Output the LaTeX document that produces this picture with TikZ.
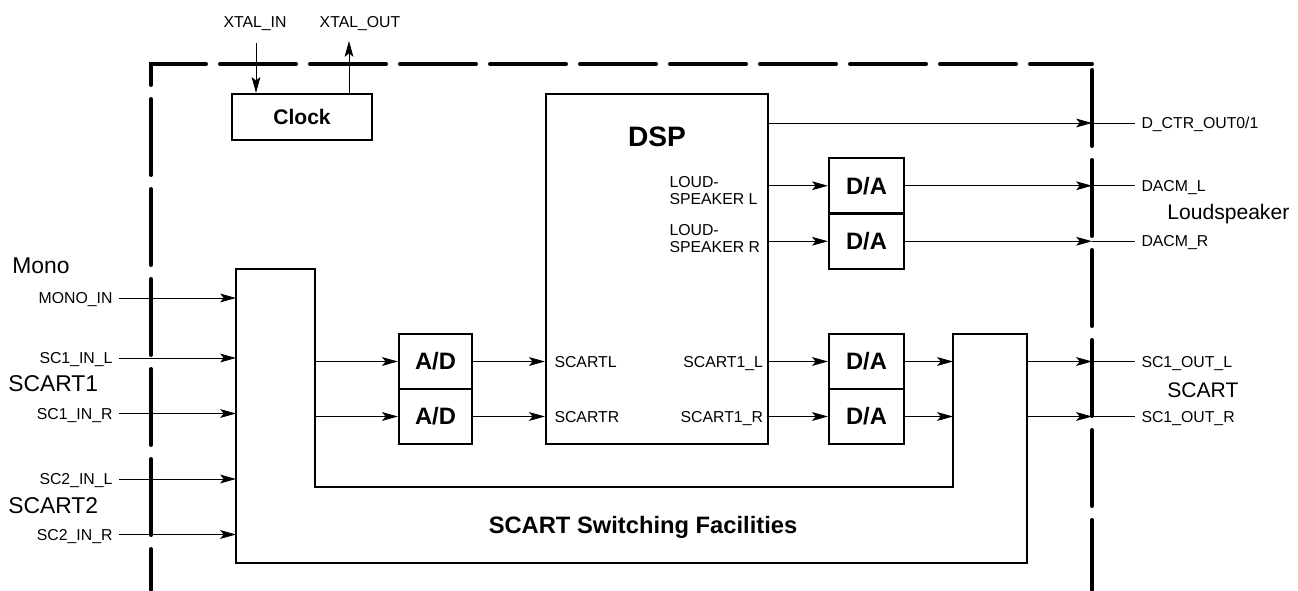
\documentclass[tikz,border=0pt]{standalone}
\usepackage{fontspec}
\setmainfont{Liberation Sans}
\usetikzlibrary{calc,arrows.meta}

\begin{document}
\begin{tikzpicture}[
  blk/.style={draw,line width=1.3pt,minimum width=1.46cm,minimum height=1.10cm,inner sep=0pt,font=\bfseries\fontsize{13.5}{15}\selectfont},
  sig/.style={font=\fontsize{9}{9.7}\selectfont,inner xsep=3.5pt,inner ysep=0pt,text height=6.4pt,text depth=0pt},
  spk/.style={font=\fontsize{9}{9.7}\selectfont,inner xsep=3.5pt,inner ysep=0pt,align=left,anchor=west},
  grp/.style={font=\fontsize{13}{15}\selectfont,inner sep=0pt,text height=9.3pt,text depth=0pt,anchor=west},
  conn/.style={line width=0.5pt,-{Stealth[length=9pt,width=5pt,inset=2pt]}},
  wire/.style={line width=0.5pt},
  bnd/.style={line width=2.3pt,line cap=round,dash pattern=on 1.52cm off 0.28cm}]
\useasboundingbox (0,0) rectangle (25.96,11.8);
\draw[bnd,dash phase=0.70cm] (3.02,0) -- (3.02,10.52) -- (21.84,10.52);
\draw[bnd,dash phase=1.68cm] (21.84,10.52) -- (21.84,0);
\coordinate (rb) at (21.84,0);
\node[draw,line width=1.3pt,minimum width=2.80cm,minimum height=0.92cm,font=\bfseries\fontsize{12}{14}\selectfont] (clock) at (6.04,9.46) {Clock};
\node[sig] (xin) at (5.10,11.36) {XTAL\_IN};
\node[sig] (xout) at (7.20,11.36) {XTAL\_OUT};
\coordinate (xinend) at (5.12,10.94);
\coordinate (xoutend) at (6.98,10.98);
\draw[conn] (xinend) -- (xinend |- clock.north);
\draw[conn] (xoutend |- clock.north) -- (xoutend);
\node[draw,line width=1.3pt,minimum width=4.44cm,minimum height=7.00cm] (dsp) at (13.14,6.42) {};
\node[font=\bfseries\fontsize{16}{18}\selectfont,text depth=0pt] (dsptitle) at (13.14,9.06) {DSP};
\node[blk] (adl) at (8.71,4.57) {A/D};
\node[blk] (adr) at (8.71,3.47) {A/D};
\node[blk,minimum width=1.50cm,minimum height=1.11cm] (dal) at (17.33,8.085) {D/A};
\node[blk,minimum width=1.50cm,minimum height=1.11cm] (dar) at (17.33,6.975) {D/A};
\node[blk,minimum width=1.50cm] (dasl) at (17.33,4.57) {D/A};
\node[blk,minimum width=1.50cm] (dasr) at (17.33,3.47) {D/A};
\draw[line width=1.3pt] (4.72,6.42) -- (6.30,6.42) -- (6.30,2.06) -- (19.06,2.06) -- (19.06,5.12) -- (20.54,5.12) -- (20.54,0.54) -- (4.72,0.54) -- cycle;
\coordinate (swin) at (4.72,0.54);
\coordinate (swinner) at (6.30,2.06);
\coordinate (swret) at (19.06,2.06);
\coordinate (swout) at (20.54,0.54);
\node[font=\bfseries\fontsize{13.5}{15}\selectfont,text depth=0pt] (swlbl) at (12.86,1.31) {SCART Switching Facilities};
\node[spk] (lsl) at (13.26,7.99) {LOUD-\\SPEAKER L};
\node[spk] (lsr) at (13.26,7.03) {LOUD-\\SPEAKER R};
\node[sig,anchor=west] (scl) at (10.96,4.57) {SCARTL};
\node[sig,anchor=west] (scr) at (10.96,3.47) {SCARTR};
\node[sig,anchor=east] (sc1l) at (15.39,4.57) {SCART1\_L};
\node[sig,anchor=east] (sc1r) at (15.39,3.47) {SCART1\_R};
\node[sig,anchor=east] (monoin) at (2.38,5.84) {MONO\_IN};
\node[sig,anchor=east] (sc1inl) at (2.38,4.64) {SC1\_IN\_L};
\node[sig,anchor=east] (sc1inr) at (2.38,3.53) {SC1\_IN\_R};
\node[sig,anchor=east] (sc2inl) at (2.38,2.22) {SC2\_IN\_L};
\node[sig,anchor=east] (sc2inr) at (2.38,1.11) {SC2\_IN\_R};
\node[grp] (mono) at (0.24,6.50) {Mono};
\node[grp] (scart1) at (0.16,4.14) {SCART1};
\node[grp] (scart2) at (0.16,1.70) {SCART2};
\draw[conn] (monoin.east) -- (monoin.east -| swin);
\draw[conn] (sc1inl.east) -- (sc1inl.east -| swin);
\draw[conn] (sc1inr.east) -- (sc1inr.east -| swin);
\draw[conn] (sc2inl.east) -- (sc2inl.east -| swin);
\draw[conn] (sc2inr.east) -- (sc2inr.east -| swin);
\draw[conn] (adl.west -| swinner) -- (adl.west);
\draw[conn] (adr.west -| swinner) -- (adr.west);
\draw[conn] (adl.east) -- (adl.east -| dsp.west);
\draw[conn] (adr.east) -- (adr.east -| dsp.west);
\draw[conn] (dal.west -| dsp.east) -- (dal.west);
\draw[conn] (dar.west -| dsp.east) -- (dar.west);
\draw[conn] (dasl.west -| dsp.east) -- (dasl.west);
\draw[conn] (dasr.west -| dsp.east) -- (dasr.west);
\draw[conn] (dasl.east) -- (dasl.east -| swret);
\draw[conn] (dasr.east) -- (dasr.east -| swret);
\node[sig,anchor=west] (dctr) at (22.70,9.34) {D\_CTR\_OUT0/1};
\node[sig,anchor=west] (dacml) at (22.70,8.085) {DACM\_L};
\node[sig,anchor=west] (dacmr) at (22.70,6.975) {DACM\_R};
\node[sig,anchor=west] (sc1outl) at (22.70,4.57) {SC1\_OUT\_L};
\node[sig,anchor=west] (sc1outr) at (22.70,3.47) {SC1\_OUT\_R};
\node[grp,font=\fontsize{12}{14}\selectfont,text height=8.6pt] (lsp) at (23.34,7.56) {Loudspeaker};
\node[grp,font=\fontsize{12}{14}\selectfont,text height=8.6pt] (scart) at (23.34,4.00) {SCART};
\draw[conn] (dsp.east |- dctr.west) -- (dctr.west -| rb);
\draw[wire] (dctr.west -| rb) -- (dctr.west);
\draw[conn] (dal.east) -- (dal.east -| rb);
\draw[wire] (dal.east -| rb) -- (dacml.west);
\draw[conn] (dar.east) -- (dar.east -| rb);
\draw[wire] (dar.east -| rb) -- (dacmr.west);
\draw[conn] (dasl.east -| swout) -- (dasl.east -| rb);
\draw[wire] (dasl.east -| rb) -- (sc1outl.west);
\draw[conn] (dasr.east -| swout) -- (dasr.east -| rb);
\draw[wire] (dasr.east -| rb) -- (sc1outr.west);
\end{tikzpicture}
\end{document}
